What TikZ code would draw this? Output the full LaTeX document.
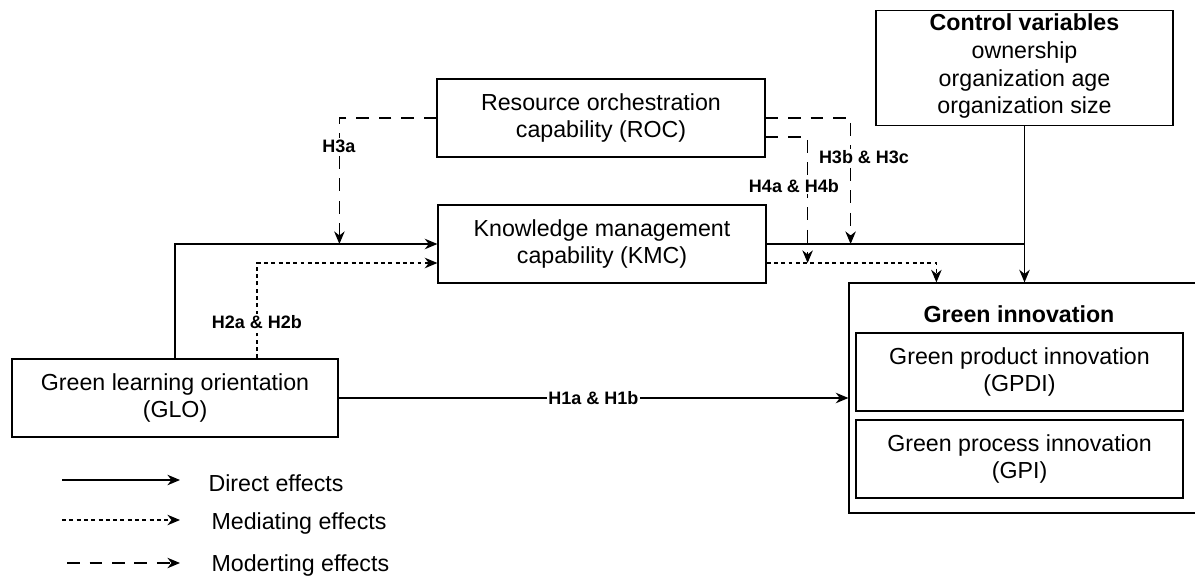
\documentclass[tikz,border=0pt]{standalone}
\usepackage{fontspec}
\setmainfont{Liberation Sans}
\usetikzlibrary{calc,arrows.meta}

\tikzset{
    box/.style={draw, rectangle, align=center, inner sep=2pt,
        font=\fontsize{16.5}{19.8}\selectfont},
    hyp/.style={fill=white, inner sep=1pt,
        font=\fontsize{12.8}{15}\selectfont\bfseries},
    legendtext/.style={anchor=west, inner sep=0pt,
        font=\fontsize{16.5}{19.8}\selectfont},
    direct/.style={-{Stealth[length=9pt,width=7.5pt]}},
    mediate/.style={-{Stealth[length=9pt,width=7.5pt]}, dash pattern=on 2.8pt off 2.4pt},
    moderate/.style={-{Stealth[length=9pt,width=7.5pt]}, dash pattern=on 9pt off 7pt}
}

\begin{document}
\begin{tikzpicture}[x=0.025cm, y=-0.025cm, line width=0.8pt]
\useasboundingbox (0,0) rectangle (1195,578);

% boxes
\node[box, minimum width=8.2cm, minimum height=1.95cm] (ROC) at (601,118)
    {Resource orchestration\\capability (ROC)};
\node[box, minimum width=8.2cm, minimum height=1.95cm] (KMC) at (602,244)
    {Knowledge management\\capability (KMC)};
\node[box, minimum width=8.15cm, minimum height=1.95cm] (GLO) at (175,398)
    {Green learning orientation\\(GLO)};
\node[box, minimum width=7.425cm, minimum height=2.8cm, text depth=6pt] (CV) at (1024.5,68)
    {\textbf{Control variables}\\ownership\\organization age\\organization size};
\node[box, minimum width=8.75cm, minimum height=5.75cm] (GI) at (1024,398) {};
\node[font=\fontsize{16.5}{19.8}\selectfont\bfseries] (GItitle) at (1019,314)
    {Green innovation};
\node[box, minimum width=8.175cm, minimum height=1.95cm] (GPDI) at (1019.5,372)
    {Green product innovation\\(GPDI)};
\node[box, minimum width=8.175cm, minimum height=1.95cm] (GPI) at (1019.5,459)
    {Green process innovation\\(GPI)};

% direct effects
\draw[direct] (GLO.north) |- (KMC.west);
\draw[direct] (GLO) -- node[midway, hyp] (H1) {H1a \& H1b} (GI);
\draw (KMC.east) -- (KMC.east -| CV.south);
\draw[direct] (CV.south) -- (CV.south |- GI.north);

% mediating effects
\draw[mediate] ($(GLO.north)+(82,0)$) |- ($(KMC.west)+(0,19)$);
\draw[mediate] ($(KMC.east)+(0,19)$) -| ($(GI.north west)+(88,0)$);

% moderating effects
\draw[moderate] (ROC.west) -| ($(KMC.west)+(-98,0)$);
\draw[moderate] (ROC.east) -| ($(KMC.east)+(84,0)$);
\draw[moderate] ($(ROC.east)+(0,19)$) -| ($(KMC.east)+(41,19)$);

% hypothesis labels
\node[hyp] (H2) at (257,322) {H2a \& H2b};
\node[hyp] (H3a) at (339,146) {H3a};
\node[hyp] (H3bc) at (864,157) {H3b \& H3c};
\node[hyp] (H4) at (794,186) {H4a \& H4b};

% legend
\coordinate (d1) at (62,480);  \coordinate (d2) at (180,480);
\coordinate (m1) at (62,520);  \coordinate (m2) at (180,520);
\coordinate (o1) at (67,563);  \coordinate (o2) at (180,563);
\draw[direct] (d1) -- (d2);
\draw[mediate] (m1) -- (m2);
\draw[moderate] (o1) -- (o2);
\node[legendtext] (Ldirect) at (208,483) {Direct effects};
\node[legendtext] (Lmediate) at (211,523) {Mediating effects};
\node[legendtext] (Lmoderate) at (211,565) {Moderting effects};
\end{tikzpicture}
\end{document}
